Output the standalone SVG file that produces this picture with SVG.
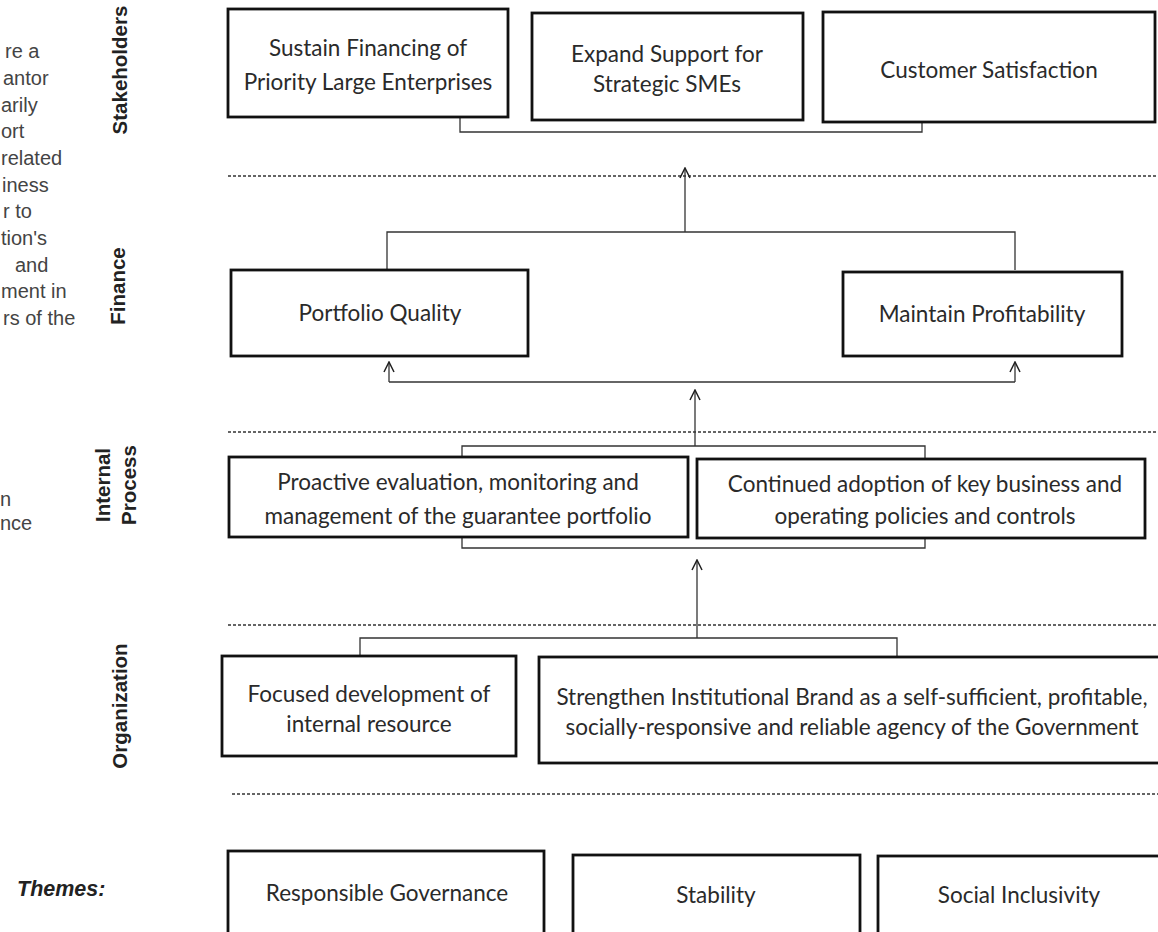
<svg xmlns="http://www.w3.org/2000/svg" width="1158" height="932" viewBox="0 0 1158 932">
<defs>
<marker id="arr" viewBox="0 0 12 12" refX="11" refY="6" markerWidth="12" markerHeight="12" markerUnits="userSpaceOnUse" orient="auto">
<path d="M1,1 L11,6 L1,11" fill="none" stroke="#222" stroke-width="1.5"/>
</marker>
</defs>
<style>
.box{fill:#fff;stroke:#111;stroke-width:2.8}
.t{font-family:Lato,"Open Sans",sans-serif;font-size:22.5px;fill:#2a2a2a;text-anchor:middle}
.lbl{font-family:"Liberation Sans",Arial,sans-serif;font-size:20.5px;font-weight:bold;fill:#222;text-anchor:middle}
.themes{font-family:"Liberation Sans",Arial,sans-serif;font-size:21.5px;font-weight:bold;font-style:italic;fill:#222;text-anchor:start}
.side{font-family:"Liberation Sans",Arial,sans-serif;font-size:20px;fill:#444}
.dash{stroke:#333;stroke-width:1.4;stroke-dasharray:3 2;fill:none}
.con{stroke:#333;stroke-width:1.3;fill:none}
</style>
<rect width="1158" height="932" fill="#fff"/>
<g id="side-text">
<text class="side" x="5" y="58">re a</text>
<text class="side" x="3" y="85">antor</text>
<text class="side" x="1" y="112">arily</text>
<text class="side" x="1" y="138">ort</text>
<text class="side" x="1" y="165">related</text>
<text class="side" x="2" y="192">iness</text>
<text class="side" x="3" y="218">r to</text>
<text class="side" x="1" y="245">tion's</text>
<text class="side" x="15" y="272">and</text>
<text class="side" x="1" y="298">ment in</text>
<text class="side" x="3" y="325">rs of the</text>
<text class="side" x="0" y="506">n</text>
<text class="side" x="0" y="530">nce</text>
</g>
<g id="labels">
<text class="lbl" transform="translate(127,70) rotate(-90)">Stakeholders</text>
<text class="lbl" transform="translate(125,286) rotate(-90)">Finance</text>
<text class="lbl" transform="translate(110,485) rotate(-90)">Internal</text>
<text class="lbl" transform="translate(136,485) rotate(-90)">Process</text>
<text class="lbl" transform="translate(127,706) rotate(-90)">Organization</text>
<text class="themes" x="17" y="896">Themes:</text>
</g>
<g id="dividers">
<line class="dash" x1="228" y1="176" x2="1158" y2="176"/>
<line class="dash" x1="228" y1="432" x2="1158" y2="432"/>
<line class="dash" x1="228" y1="625" x2="1158" y2="625"/>
<line class="dash" x1="232" y1="794" x2="1158" y2="794"/>
</g>
<g id="connectors">
<path class="con" d="M460,118 V132 H922 V122"/>
<path class="con" d="M685,232 V168" marker-end="url(#arr)"/>
<path class="con" d="M387,270 V232 H1015 V270"/>
<path class="con" d="M389,382 H1015"/>
<path class="con" d="M389,382 V362" marker-end="url(#arr)"/>
<path class="con" d="M1015,382 V362" marker-end="url(#arr)"/>
<path class="con" d="M695,446 V390" marker-end="url(#arr)"/>
<path class="con" d="M462,457 V446 H925 V459"/>
<path class="con" d="M462,537 V548 H925 V538"/>
<path class="con" d="M697,638 V560" marker-end="url(#arr)"/>
<path class="con" d="M360,657 V638 H897 V657"/>
</g>
<g id="s1"><rect class="box" x="228" y="9" width="280" height="108"/><text class="t" x="368" y="56">Sustain Financing of</text><text class="t" x="368" y="90">Priority Large Enterprises</text></g>
<g id="s2"><rect class="box" x="532" y="13" width="271" height="107"/><text class="t" x="667" y="62">Expand Support for</text><text class="t" x="667" y="92">Strategic SMEs</text></g>
<g id="s3"><rect class="box" x="823" y="12" width="332" height="110"/><text class="t" x="989" y="78">Customer Satisfaction</text></g>
<g id="f1"><rect class="box" x="231" y="270" width="297" height="86"/><text class="t" x="380" y="321">Portfolio Quality</text></g>
<g id="f2"><rect class="box" x="843" y="272" width="279" height="84"/><text class="t" x="982" y="322">Maintain Profitability</text></g>
<g id="i1"><rect class="box" x="229" y="457" width="459" height="80"/><text class="t" x="458" y="490" font-size="23.5">Proactive evaluation, monitoring and</text><text class="t" x="458" y="524" font-size="23.5">management of the guarantee portfolio</text></g>
<g id="i2"><rect class="box" x="697" y="459" width="448" height="79"/><text class="t" x="925" y="492">Continued adoption of key business and</text><text class="t" x="925" y="524">operating policies and controls</text></g>
<g id="o1"><rect class="box" x="222" y="656" width="294" height="100"/><text class="t" x="369" y="702">Focused development of</text><text class="t" x="369" y="732">internal resource</text></g>
<g id="o2"><rect class="box" x="539" y="657" width="625" height="106"/><text class="t" x="852" y="705">Strengthen Institutional Brand as a self-sufficient, profitable,</text><text class="t" x="852" y="735">socially-responsive and reliable agency of the Government</text></g>
<g id="t1"><rect class="box" x="228" y="851" width="316" height="90"/><text class="t" x="387" y="901">Responsible Governance</text></g>
<g id="t2"><rect class="box" x="573" y="855" width="287" height="90"/><text class="t" x="716" y="903">Stability</text></g>
<g id="t3"><rect class="box" x="878" y="856" width="290" height="90"/><text class="t" x="1019" y="903">Social Inclusivity</text></g>
</svg>
